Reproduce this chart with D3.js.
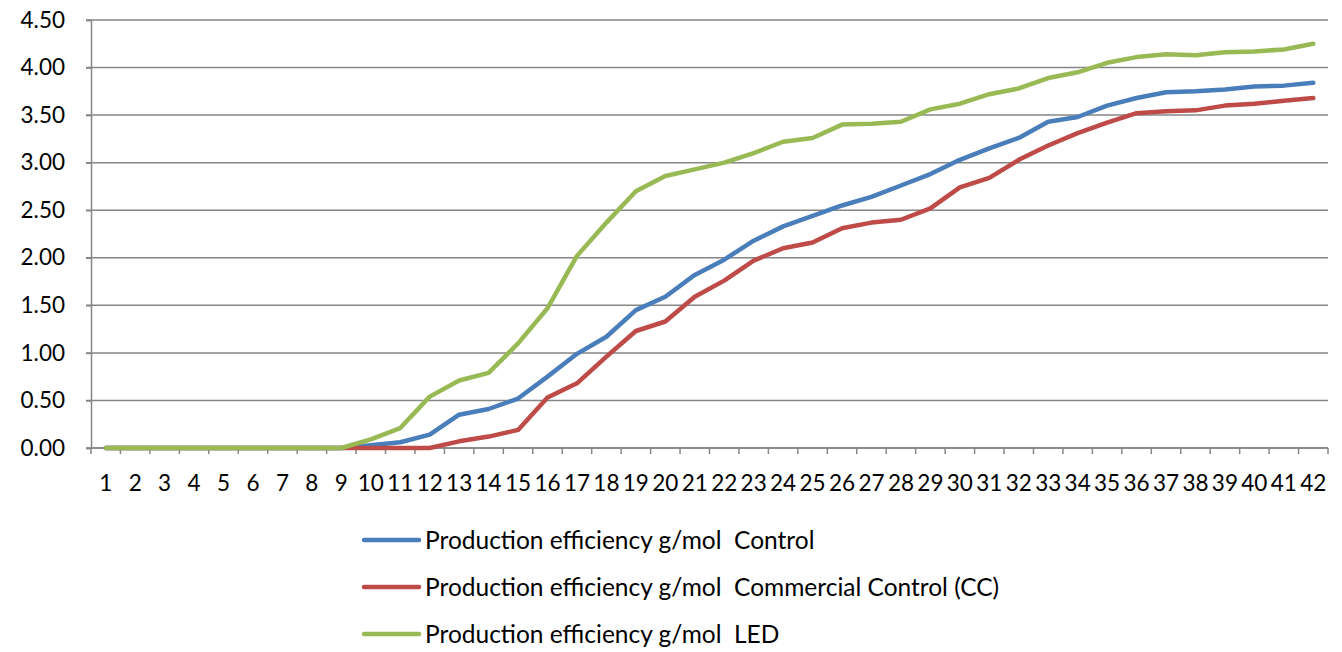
<!DOCTYPE html>
<html>
<head>
<meta charset="utf-8">
<script src="https://cdn.jsdelivr.net/npm/d3@7"></script>
<style>
  html, body { margin: 0; padding: 0; background: #fff; }
  svg text { font-family: Lato, "Open Sans", sans-serif; fill: #000; }
</style>
</head>
<body>
<svg id="chart" width="1342" height="652"></svg>
<script>
// Day index along the x axis
const days = d3.range(1, 43);

// Production efficiency (g/mol) per day for each treatment
const controlValues = [0,0,0,0,0,0,0,0,0,0.03,0.06,0.14,0.35,0.41,0.52,0.75,0.99,1.17,1.45,1.59,1.82,1.98,2.18,2.33,2.44,2.55,2.64,2.76,2.88,3.03,3.15,3.26,3.43,3.48,3.60,3.68,3.74,3.75,3.77,3.80,3.81,3.84];
const commercialValues = [0,0,0,0,0,0,0,0,0,0,0,0,0.07,0.12,0.19,0.53,0.68,0.96,1.23,1.33,1.59,1.76,1.97,2.10,2.16,2.31,2.37,2.40,2.52,2.74,2.84,3.03,3.18,3.31,3.42,3.52,3.54,3.55,3.60,3.62,3.65,3.68];
const ledValues = [0,0,0,0,0,0,0,0,0,0.09,0.21,0.54,0.71,0.79,1.10,1.47,2.02,2.37,2.70,2.86,2.93,3.00,3.10,3.22,3.26,3.40,3.41,3.43,3.56,3.62,3.72,3.78,3.89,3.95,4.05,4.11,4.14,4.13,4.16,4.17,4.19,4.25];

const seriesNames = [
  "Production efficiency g/mol  Control",
  "Production efficiency g/mol  Commercial Control (CC)",
  "Production efficiency g/mol  LED"
];
const seriesColors = ["#4A7EBB", "#BE4B48", "#98B954"];
const yTicks = [0, 0.5, 1, 1.5, 2, 2.5, 3, 3.5, 4, 4.5];

const series = [controlValues, commercialValues, ledValues].map((vals, i) => ({
  name: seriesNames[i],
  color: seriesColors[i],
  values: vals.map((v, j) => ({ day: days[j], v }))
}));

const svg = d3.select("#chart");
const plot = { left: 91, right: 1328, top: 20, bottom: 448 };

const x = d3.scaleBand().domain(days).range([plot.left, plot.right]);
const y = d3.scaleLinear().domain([0, 4.5]).range([plot.bottom, plot.top]);

const gridColor = "#868686";
const axisFont = 22.5;
const legendFont = 24.5;

// Horizontal gridlines
svg.append("g")
  .selectAll("line")
  .data(yTicks)
  .join("line")
  .attr("x1", plot.left - 5)
  .attr("x2", plot.right)
  .attr("y1", d => y(d))
  .attr("y2", d => y(d))
  .attr("stroke", gridColor)
  .attr("stroke-width", 1.5);

// Y axis
const yAxis = svg.append("g")
  .attr("transform", `translate(${plot.left},0)`)
  .call(d3.axisLeft(y).tickValues(yTicks).tickFormat(d3.format(".2f")).tickSize(5).tickPadding(21));
yAxis.select(".domain").attr("stroke", gridColor).attr("stroke-width", 1.5);
yAxis.selectAll(".tick line").attr("stroke", gridColor).attr("stroke-width", 1.5);
yAxis.selectAll(".tick text").attr("font-size", axisFont).attr("font-family", "Lato, sans-serif");

// X axis: ticks sit on category boundaries, labels at category centres
const xAxisG = svg.append("g").attr("transform", `translate(0,${plot.bottom})`);
xAxisG.append("line")
  .attr("x1", plot.left).attr("x2", plot.right)
  .attr("stroke", gridColor).attr("stroke-width", 1.5);
const boundaries = days.map(d => x(d)).concat([x(days[days.length - 1]) + x.bandwidth()]);
xAxisG.selectAll("line.tick")
  .data(boundaries)
  .join("line")
  .attr("class", "tick")
  .attr("x1", d => d).attr("x2", d => d)
  .attr("y1", 0).attr("y2", 6)
  .attr("stroke", gridColor).attr("stroke-width", 1.5);
xAxisG.selectAll("text")
  .data(days)
  .join("text")
  .attr("x", d => x(d) + x.bandwidth() / 2)
  .attr("y", 43)
  .attr("text-anchor", "middle")
  .attr("font-size", axisFont)
  .text(d => d);

// Series lines
const line = d3.line()
  .x(d => x(d.day) + x.bandwidth() / 2)
  .y(d => y(d.v));

svg.append("g")
  .selectAll("path")
  .data(series)
  .join("path")
  .attr("d", d => line(d.values))
  .attr("fill", "none")
  .attr("stroke", d => d.color)
  .attr("stroke-width", 4.5)
  .attr("stroke-linejoin", "round")
  .attr("stroke-linecap", "round");

// Legend
const legend = svg.append("g")
  .selectAll("g")
  .data(series)
  .join("g")
  .attr("transform", (d, i) => `translate(364,${540 + i * 47})`);
legend.append("line")
  .attr("x1", 0).attr("x2", 55)
  .attr("stroke", d => d.color)
  .attr("stroke-width", 4.5)
  .attr("stroke-linecap", "round");
legend.append("text")
  .attr("x", 61)
  .attr("dy", "0.35em")
  .attr("font-size", legendFont)
  .style("white-space", "pre")
  .text(d => d.name);
</script>
</body>
</html>
